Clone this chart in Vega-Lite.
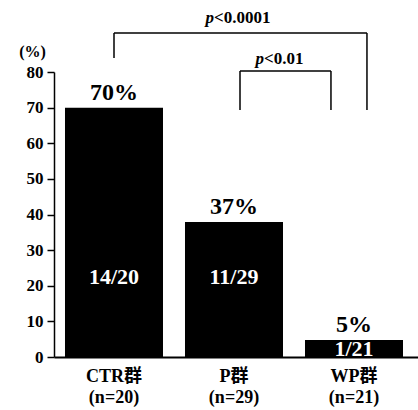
{
  "$schema": "https://vega.github.io/schema/vega-lite/v6.json",
  "width": 364,
  "height": 285,
  "autosize": {"type": "none"},
  "padding": {"left": 54, "top": 72, "right": 0, "bottom": 53},
  "background": "white",
  "config": {
    "view": {"stroke": null},
    "font": "Liberation Serif, Noto Sans CJK JP",
    "text": {"font": "Liberation Serif, Noto Sans CJK JP", "color": "black"},
    "axisY": {
      "tickCount": 8, "grid": false, "tickSize": 7, "tickColor": "black", "tickWidth": 1.5,
      "domainColor": "black", "domainWidth": 1.5,
      "labelPadding": 4, "labelFont": "Liberation Serif", "labelFontSize": 17,
      "labelFontWeight": "bold", "labelColor": "black", "labelOverlap": false,
      "titleAngle": 0, "titleAlign": "center", "titleBaseline": "middle",
      "titleX": -22, "titleY": -21,
      "titleFont": "Liberation Serif", "titleFontSize": 16, "titleFontWeight": "bold", "titleColor": "black"
    }
  },
  "datasets": {
    "bars": [
      {"group": "CTR群|(n=20)", "value": 70, "pct": "70%", "count": "14/20", "inner": "mid"},
      {"group": "P群|(n=29)", "value": 37.9, "pct": "37%", "count": "11/29", "inner": "mid"},
      {"group": "WP群|(n=21)", "value": 4.76, "pct": "5%", "count": "1/21", "inner": "low"}
    ],
    "brackets": [
      {"x": 0.5, "x2": 0.5, "y": 83.9, "y2": 90.95},
      {"x": 0.5, "x2": 2.608, "y": 90.95, "y2": 90.95},
      {"x": 2.608, "x2": 2.608, "y": 90.95, "y2": 69.3},
      {"x": 1.55, "x2": 1.55, "y": 69.3, "y2": 80.3},
      {"x": 1.55, "x2": 2.308, "y": 80.3, "y2": 80.3},
      {"x": 2.308, "x2": 2.308, "y": 80.3, "y2": 69.3}
    ],
    "pvals": [
      {"x": 1.333, "y": 93.75, "rest": "<0.0001"},
      {"x": 1.75, "y": 82.25, "rest": "<0.01"}
    ]
  },
  "resolve": {"scale": {"x": "independent"}},
  "layer": [
    {
      "data": {"name": "bars"},
      "layer": [
        {
          "mark": {"type": "bar", "color": "black"},
          "encoding": {
            "x": {
              "field": "group", "type": "nominal", "sort": null,
              "scale": {"paddingInner": 0.1833, "paddingOuter": 0.1083, "align": 0.423},
              "axis": {
                "title": null, "labelAngle": 0, "ticks": false,
                "labelExpr": "split(datum.label, '|')",
                "labelLineHeight": 21, "labelPadding": 10,
                "labelFont": "Liberation Serif, Noto Sans CJK JP",
                "labelFontSize": 18, "labelFontWeight": "bold", "labelColor": "black",
                "domainColor": "black", "domainWidth": 2
              }
            },
            "y": {
              "field": "value", "type": "quantitative",
              "scale": {"domain": [0, 80], "nice": false},
              "axis": {"title": "(%)"}
            }
          }
        },
        {
          "mark": {"type": "text", "baseline": "alphabetic", "dy": -8, "fontSize": 24, "fontWeight": "bold"},
          "encoding": {
            "x": {"field": "group", "type": "nominal", "sort": null},
            "y": {"field": "value", "type": "quantitative"},
            "text": {"field": "pct"}
          }
        },
        {
          "transform": [{"filter": "datum.inner == 'mid'"}],
          "mark": {"type": "text", "baseline": "middle", "fontSize": 22, "fontWeight": "bold", "color": "white"},
          "encoding": {
            "x": {"field": "group", "type": "nominal", "sort": null},
            "y": {"datum": 22.5, "type": "quantitative"},
            "text": {"field": "count"}
          }
        },
        {
          "transform": [{"filter": "datum.inner == 'low'"}],
          "mark": {"type": "text", "baseline": "middle", "fontSize": 22, "fontWeight": "bold", "color": "white"},
          "encoding": {
            "x": {"field": "group", "type": "nominal", "sort": null},
            "y": {"datum": 2.3, "type": "quantitative"},
            "text": {"field": "count"}
          }
        }
      ]
    },
    {
      "layer": [
        {
          "data": {"name": "brackets"},
          "mark": {"type": "rule", "color": "black", "strokeWidth": 1.5},
          "encoding": {
            "x": {"field": "x", "type": "quantitative", "scale": {"domain": [0, 3.0333], "nice": false, "zero": false}, "axis": null},
            "x2": {"field": "x2"},
            "y": {"field": "y", "type": "quantitative"},
            "y2": {"field": "y2"}
          }
        },
        {
          "data": {"name": "pvals"},
          "mark": {"type": "text", "align": "right", "baseline": "alphabetic", "fontSize": 17, "fontWeight": "bold", "fontStyle": "italic"},
          "encoding": {
            "x": {"field": "x", "type": "quantitative"},
            "y": {"field": "y", "type": "quantitative"},
            "text": {"value": "p"}
          }
        },
        {
          "data": {"name": "pvals"},
          "mark": {"type": "text", "align": "left", "baseline": "alphabetic", "fontSize": 17, "fontWeight": "bold"},
          "encoding": {
            "x": {"field": "x", "type": "quantitative"},
            "y": {"field": "y", "type": "quantitative"},
            "text": {"field": "rest"}
          }
        }
      ]
    }
  ]
}
